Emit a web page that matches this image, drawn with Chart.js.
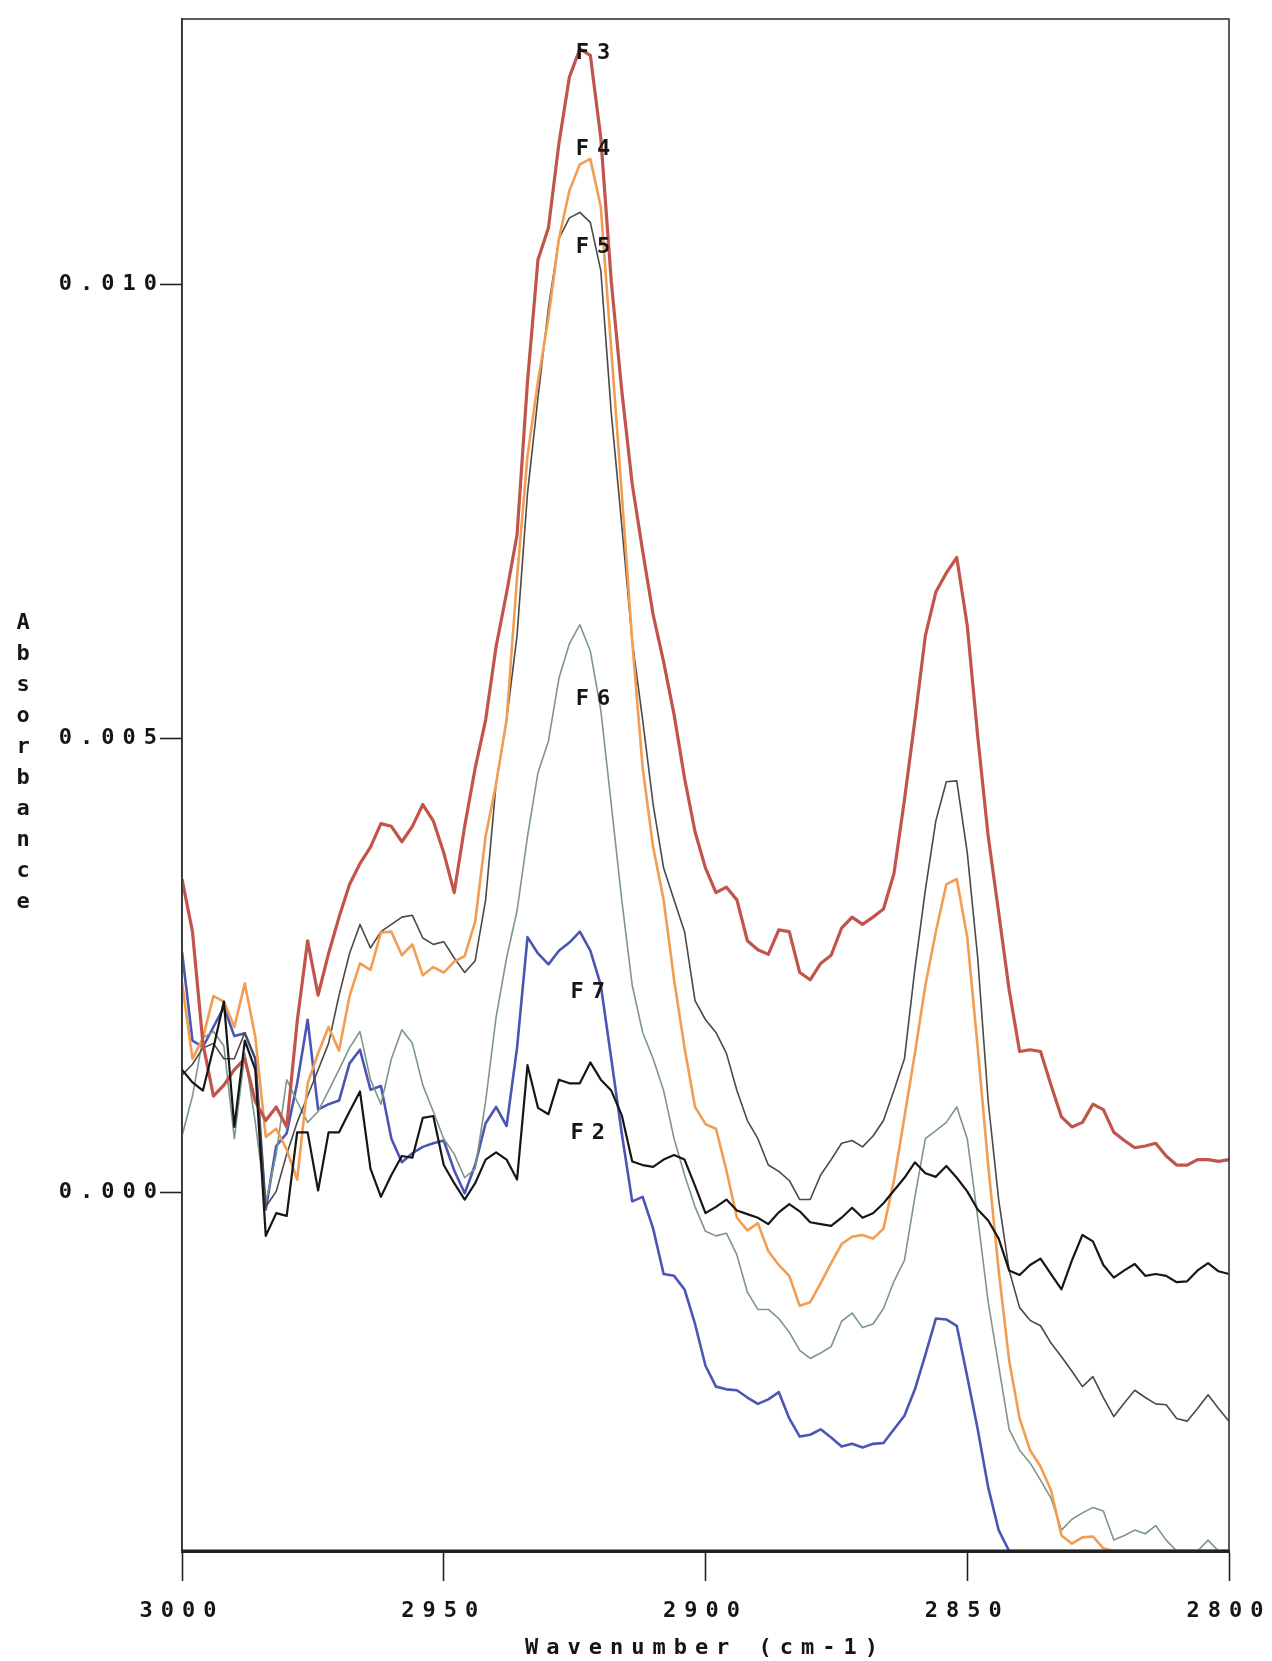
<!DOCTYPE html>
<html>
<head>
<meta charset="utf-8">
<title>Absorbance spectra F2-F7</title>
<script src="https://cdn.jsdelivr.net/npm/chart.js@4.4.1/dist/chart.umd.min.js"></script>
<style>
  html, body { margin: 0; padding: 0; background: #fff; }
  #wrap { width: 1272px; height: 1661px; }
</style>
</head>
<body>
<div id="wrap"><canvas id="spec" width="1272" height="1661"></canvas></div>
<script>
// wavenumber grid (cm-1), one point every 2 cm-1
const wavenumbers = [
  3000, 2998, 2996, 2994, 2992, 2990, 2988, 2986, 2984, 2982,
  2980, 2978, 2976, 2974, 2972, 2970, 2968, 2966, 2964, 2962,
  2960, 2958, 2956, 2954, 2952, 2950, 2948, 2946, 2944, 2942,
  2940, 2938, 2936, 2934, 2932, 2930, 2928, 2926, 2924, 2922,
  2920, 2918, 2916, 2914, 2912, 2910, 2908, 2906, 2904, 2902,
  2900, 2898, 2896, 2894, 2892, 2890, 2888, 2886, 2884, 2882,
  2880, 2878, 2876, 2874, 2872, 2870, 2868, 2866, 2864, 2862,
  2860, 2858, 2856, 2854, 2852, 2850, 2848, 2846, 2844, 2842,
  2840, 2838, 2836, 2834, 2832, 2830, 2828, 2826, 2824, 2822,
  2820, 2818, 2816, 2814, 2812, 2810, 2808, 2806, 2804, 2802,
  2800
];

const f3 = [
  0.00345, 0.00287, 0.00164, 0.00106, 0.00118, 0.00135, 0.00147, 0.00100, 0.00079, 0.00094,
  0.00072, 0.00188, 0.00277, 0.00217, 0.00263, 0.00303, 0.00339, 0.00362, 0.00380, 0.00406,
  0.00403, 0.00386, 0.00403, 0.00427, 0.00409, 0.00374, 0.00330, 0.00403, 0.00467, 0.00520,
  0.00601, 0.00660, 0.00724, 0.00893, 0.01027, 0.01062, 0.01155, 0.01228, 0.01259, 0.01252,
  0.01161, 0.01003, 0.00883, 0.00780, 0.00706, 0.00636, 0.00584, 0.00526, 0.00456, 0.00397,
  0.00357, 0.00330, 0.00336, 0.00322, 0.00277, 0.00267, 0.00262, 0.00289, 0.00287, 0.00242,
  0.00234, 0.00252, 0.00261, 0.00291, 0.00303, 0.00295, 0.00303, 0.00312, 0.00351, 0.00432,
  0.00520, 0.00613, 0.00661, 0.00682, 0.00699, 0.00624, 0.00502, 0.00392, 0.00308, 0.00223,
  0.00155, 0.00157, 0.00155, 0.00118, 0.00083, 0.00072, 0.00077, 0.00097, 0.00091, 0.00066,
  0.00057, 0.00049, 0.00051, 0.00054, 0.00040, 0.00030, 0.00030, 0.00036, 0.00036, 0.00034,
  0.00036
];

const f4 = [
  0.00231, 0.00147, 0.00170, 0.00216, 0.00210, 0.00182, 0.00230, 0.00171, 0.00061, 0.00070,
  0.00047, 0.00014, 0.00120, 0.00153, 0.00182, 0.00156, 0.00216, 0.00252, 0.00245, 0.00286,
  0.00287, 0.00261, 0.00273, 0.00239, 0.00248, 0.00242, 0.00254, 0.00260, 0.00298, 0.00392,
  0.00450, 0.00520, 0.00677, 0.00811, 0.00893, 0.00963, 0.01050, 0.01103, 0.01132, 0.01138,
  0.01085, 0.00928, 0.00770, 0.00607, 0.00467, 0.00380, 0.00322, 0.00234, 0.00159, 0.00094,
  0.00075, 0.00070, 0.00024, -0.00028, -0.00042, -0.00034, -0.00065, -0.00080, -0.00092, -0.00125,
  -0.00121, -0.00100, -0.00078, -0.00057, -0.00049, -0.00047, -0.00051, -0.00040, 0.00013, 0.00083,
  0.00153, 0.00228, 0.00287, 0.00339, 0.00345, 0.00281, 0.00159, 0.00030, -0.00086, -0.00185,
  -0.00249, -0.00284, -0.00302, -0.00328, -0.00378, -0.00387, -0.00380, -0.00379, -0.00392, -0.00395,
  -0.00395, -0.00395, -0.00395, -0.00395, -0.00395, -0.00395, -0.00395, -0.00395, -0.00395, -0.00395,
  -0.00395
];

const f5 = [
  0.00129, 0.00141, 0.00159, 0.00164, 0.00147, 0.00147, 0.00176, 0.00147, -0.00016, 0.00001,
  0.00042, 0.00077, 0.00106, 0.00135, 0.00164, 0.00217, 0.00263, 0.00295, 0.00269, 0.00287,
  0.00295, 0.00303, 0.00305, 0.00280, 0.00273, 0.00276, 0.00258, 0.00242, 0.00255, 0.00322,
  0.00450, 0.00520, 0.00613, 0.00770, 0.00875, 0.00974, 0.01050, 0.01073, 0.01079, 0.01068,
  0.01015, 0.00858, 0.00735, 0.00607, 0.00520, 0.00427, 0.00357, 0.00322, 0.00287, 0.00211,
  0.00190, 0.00176, 0.00153, 0.00112, 0.00079, 0.00059, 0.00030, 0.00023, 0.00013, -0.00008,
  -0.00008, 0.00019, 0.00036, 0.00054, 0.00057, 0.00050, 0.00062, 0.00079, 0.00112, 0.00147,
  0.00246, 0.00333, 0.00409, 0.00452, 0.00453, 0.00374, 0.00258, 0.00100, -0.00008, -0.00086,
  -0.00127, -0.00141, -0.00147, -0.00166, -0.00181, -0.00197, -0.00214, -0.00203, -0.00226, -0.00247,
  -0.00232, -0.00218, -0.00226, -0.00233, -0.00234, -0.00249, -0.00252, -0.00238, -0.00223, -0.00238,
  -0.00252
];

const f6 = [
  0.00062, 0.00106, 0.00170, 0.00177, 0.00161, 0.00059, 0.00153, 0.00077, -0.00012, 0.00042,
  0.00124, 0.00100, 0.00077, 0.00089, 0.00112, 0.00135, 0.00159, 0.00177, 0.00124, 0.00097,
  0.00147, 0.00179, 0.00164, 0.00118, 0.00089, 0.00059, 0.00042, 0.00016, 0.00026, 0.00100,
  0.00193, 0.00258, 0.00310, 0.00392, 0.00462, 0.00497, 0.00566, 0.00604, 0.00625, 0.00596,
  0.00531, 0.00427, 0.00322, 0.00228, 0.00176, 0.00147, 0.00112, 0.00059, 0.00019, -0.00016,
  -0.00043, -0.00048, -0.00045, -0.00069, -0.00110, -0.00129, -0.00129, -0.00139, -0.00154, -0.00174,
  -0.00183, -0.00177, -0.00170, -0.00142, -0.00133, -0.00149, -0.00145, -0.00128, -0.00098, -0.00075,
  -0.00005, 0.00059, 0.00068, 0.00077, 0.00094, 0.00059, -0.00028, -0.00121, -0.00191, -0.00261,
  -0.00284, -0.00298, -0.00317, -0.00337, -0.00372, -0.00360, -0.00353, -0.00347, -0.00351, -0.00383,
  -0.00378, -0.00372, -0.00376, -0.00367, -0.00383, -0.00395, -0.00395, -0.00395, -0.00383, -0.00395,
  -0.00395
];

const f7 = [
  0.00265, 0.00167, 0.00160, 0.00182, 0.00204, 0.00172, 0.00175, 0.00147, -0.00019, 0.00051,
  0.00065, 0.00120, 0.00190, 0.00091, 0.00097, 0.00101, 0.00142, 0.00157, 0.00113, 0.00117,
  0.00059, 0.00033, 0.00043, 0.00050, 0.00054, 0.00057, 0.00024, -0.00001, 0.00030, 0.00076,
  0.00094, 0.00073, 0.00159, 0.00281, 0.00263, 0.00251, 0.00266, 0.00275, 0.00287, 0.00266,
  0.00228, 0.00147, 0.00065, -0.00010, -0.00005, -0.00040, -0.00090, -0.00092, -0.00107, -0.00145,
  -0.00191, -0.00214, -0.00217, -0.00218, -0.00226, -0.00233, -0.00228, -0.00220, -0.00249, -0.00269,
  -0.00267, -0.00261, -0.00270, -0.00280, -0.00277, -0.00281, -0.00277, -0.00276, -0.00261, -0.00246,
  -0.00217, -0.00179, -0.00139, -0.00140, -0.00147, -0.00203, -0.00261, -0.00325, -0.00372, -0.00395,
  -0.00395, -0.00395, -0.00395, -0.00395, -0.00395, -0.00395, -0.00395, -0.00395, -0.00395, -0.00395,
  -0.00395, -0.00395, -0.00395, -0.00395, -0.00395, -0.00395, -0.00395, -0.00395, -0.00395, -0.00395,
  -0.00395
];

const f2 = [
  0.00135, 0.00121, 0.00112, 0.00159, 0.00210, 0.00072, 0.00167, 0.00135, -0.00048, -0.00023,
  -0.00026, 0.00066, 0.00066, 0.00002, 0.00066, 0.00066, 0.00089, 0.00111, 0.00026, -0.00005,
  0.00019, 0.00040, 0.00038, 0.00082, 0.00084, 0.00030, 0.00010, -0.00008, 0.00010, 0.00036,
  0.00044, 0.00036, 0.00014, 0.00140, 0.00093, 0.00086, 0.00124, 0.00120, 0.00120, 0.00143,
  0.00124, 0.00112, 0.00085, 0.00034, 0.00030, 0.00028, 0.00036, 0.00041, 0.00036, 0.00007,
  -0.00023, -0.00016, -0.00008, -0.00020, -0.00024, -0.00028, -0.00035, -0.00022, -0.00013, -0.00021,
  -0.00033, -0.00035, -0.00037, -0.00028, -0.00017, -0.00028, -0.00023, -0.00012, 0.00002, 0.00016,
  0.00033, 0.00021, 0.00017, 0.00029, 0.00016, 0.00001, -0.00019, -0.00031, -0.00051, -0.00086,
  -0.00091, -0.00080, -0.00073, -0.00090, -0.00107, -0.00075, -0.00047, -0.00054, -0.00080, -0.00094,
  -0.00086, -0.00079, -0.00092, -0.00090, -0.00092, -0.00099, -0.00098, -0.00086, -0.00078, -0.00087,
  -0.00090
];

// axis ticks
const xTicks = [3000, 2950, 2900, 2850, 2800];
const yTicks = [0.000, 0.005, 0.010];

// band labels written next to the curves (data coordinates)
const bandLabels = ['F3', 'F4', 'F5', 'F6', 'F7', 'F2'];
const bandX = [2921.5, 2921.5, 2921.5, 2921.5, 2922.5, 2922.5];
const bandY = [0.01254, 0.01149, 0.01041, 0.00543, 0.00220, 0.00065];

const FONT = 'DejaVu Sans Mono';
const FONT_SIZE = 22;
const INK = '#151515';

const series = [
  { name: 'F2', values: f2, color: '#161616', width: 2.2 },
  { name: 'F3', values: f3, color: '#c1544b', width: 3.2 },
  { name: 'F4', values: f4, color: '#f29d52', width: 2.6 },
  { name: 'F5', values: f5, color: '#4d4848', width: 1.6 },
  { name: 'F6', values: f6, color: '#7d9787', width: 1.6 },
  { name: 'F7', values: f7, color: '#4b56b4', width: 2.6 }
];

// plotter style text: widely spaced letters
const spacing = {
  id: 'spacing',
  beforeDraw(chart) {
    chart.ctx.letterSpacing = '8px';
  }
};

// closed frame around the plot, heavier bottom axis
const frame = {
  id: 'frame',
  afterDatasetsDraw(chart) {
    const { ctx, chartArea: a } = chart;
    ctx.save();
    ctx.strokeStyle = '#333';
    ctx.lineWidth = 1.6;
    ctx.strokeRect(a.left, a.top, a.right - a.left, a.bottom - a.top);
    ctx.strokeStyle = '#222';
    ctx.lineWidth = 3;
    ctx.beginPath();
    ctx.moveTo(a.left, a.bottom);
    ctx.lineTo(a.right, a.bottom);
    ctx.stroke();
    ctx.restore();
  }
};

const annotate = {
  id: 'annotate',
  afterDraw(chart) {
    const { ctx, scales } = chart;
    ctx.save();
    ctx.fillStyle = INK;
    ctx.font = 'bold ' + FONT_SIZE + 'px "' + FONT + '"';
    ctx.textAlign = 'center';
    ctx.textBaseline = 'middle';
    ctx.letterSpacing = '8px';
    bandLabels.forEach((t, i) => {
      ctx.fillText(t, scales.x.getPixelForValue(bandX[i]) + 4, scales.y.getPixelForValue(bandY[i]));
    });
    // y title, letters stacked upright
    ctx.letterSpacing = '0px';
    'Absorbance'.split('').forEach((ch, i) => {
      ctx.fillText(ch, 23, 623 + i * 31);
    });
    ctx.restore();
  }
};

const tickFont = { family: FONT, size: FONT_SIZE, weight: 'bold' };

new Chart(document.getElementById('spec'), {
  type: 'line',
  data: {
    datasets: series.map(s => ({
      label: s.name,
      data: wavenumbers.map((w, i) => ({ x: w, y: s.values[i] })),
      borderColor: s.color,
      borderWidth: s.width,
      borderJoinStyle: 'round',
      pointRadius: 0,
      tension: 0,
      fill: false
    }))
  },
  options: {
    responsive: false,
    animation: false,
    layout: { padding: { top: 19, right: 43, left: 0, bottom: 0 } },
    plugins: { legend: { display: false }, tooltip: { enabled: false } },
    scales: {
      x: {
        type: 'linear',
        reverse: true,
        min: 2800,
        max: 3000,
        afterBuildTicks: s => { s.ticks = xTicks.map(v => ({ value: v })); },
        afterFit: s => { s.height = 110; s.paddingLeft = 0; s.paddingRight = 0; },
        grid: { drawOnChartArea: false, drawTicks: true, tickLength: 30, tickWidth: 1.6, tickColor: '#222' },
        border: { display: true, color: '#222', width: 3 },
        ticks: {
          callback: v => String(v),
          font: tickFont,
          color: INK,
          padding: 17,
          maxRotation: 0,
          autoSkip: false
        },
        title: {
          display: true,
          text: 'Wavenumber (cm-1)',
          font: tickFont,
          color: INK,
          padding: { top: 0, bottom: 0 }
        }
      },
      y: {
        min: -0.00395,
        max: 0.01292,
        afterBuildTicks: s => { s.ticks = yTicks.map(v => ({ value: v })); },
        afterFit: s => { s.width = 182; s.paddingTop = 0; s.paddingBottom = 0; },
        grid: { drawOnChartArea: false, drawTicks: true, tickLength: 22, tickWidth: 1.6, tickColor: '#222' },
        border: { display: true, color: '#333', width: 1.6 },
        ticks: {
          callback: v => v.toFixed(3),
          font: tickFont,
          color: INK,
          padding: -5
        },
        title: { display: false }
      }
    }
  },
  plugins: [spacing, frame, annotate]
});
</script>
</body>
</html>
